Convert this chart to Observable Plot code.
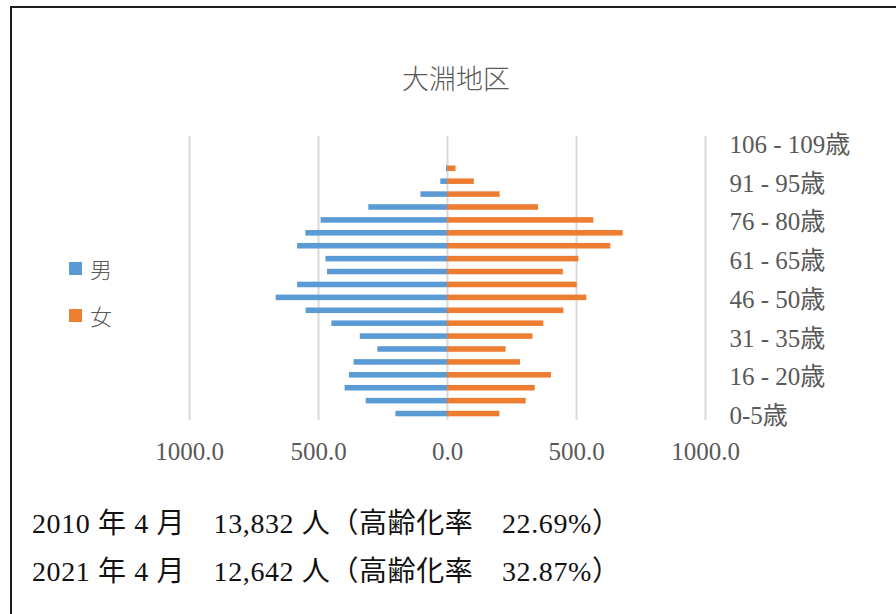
<!DOCTYPE html>
<html lang="ja">
<head>
<meta charset="utf-8">
<script src="https://cdn.jsdelivr.net/npm/d3@7"></script>
<script src="https://cdn.jsdelivr.net/npm/@observablehq/plot@0.6"></script>
<style>
  html, body { margin: 0; padding: 0; background: #fff; }
  #page { position: relative; width: 896px; height: 614px; overflow: hidden; background: #fff; }
  #box { position: absolute; left: 10px; top: 6px; width: 1000px; height: 1000px; border: 2px solid #1e1e1e; box-sizing: border-box; }
  #chart { position: absolute; left: 0; top: 0; }
  #title { position: absolute; left: 0; width: 912px; top: 58px; text-align: center;
           font-family: "Noto Sans CJK JP", sans-serif; font-weight: 300; font-size: 27px; color: #595959; }
  .legend-item { position: absolute; left: 69px; display: flex; align-items: center;
                 font-family: "Noto Sans CJK JP", sans-serif; font-weight: 300; font-size: 22px; color: #595959; }
  .legend-item .sw { width: 13px; height: 13px; margin-right: 8px; }
  .note { position: absolute; left: 32px; font-family: "Liberation Serif", "Noto Sans CJK JP", serif;
          font-size: 28px; letter-spacing: 0.6px; color: #111; white-space: pre; }
</style>
</head>
<body>
<div id="page">
  <div id="box"></div>
  <div id="chart"></div>
  <div id="title"></div>
  <div id="legend"></div>
  <div id="notes"></div>
</div>
<script>
// Age groups, youngest first
const ages = [
  "0-5歳", "6 - 10歳", "11 - 15歳", "16 - 20歳", "21 - 25歳", "26 - 30歳",
  "31 - 35歳", "36 - 40歳", "41 - 45歳", "46 - 50歳", "51 - 55歳", "56 - 60歳",
  "61 - 65歳", "66 - 70歳", "71 - 75歳", "76 - 80歳", "81 - 85歳", "86 - 90歳",
  "91 - 95歳", "96 - 100歳", "101 - 105歳", "106 - 109歳"
];
// Population per age group (persons)
const male   = [200, 315, 397, 380, 362, 270, 338, 448, 548, 664, 581, 465,
                471, 581, 549, 490, 305, 103, 26, 4, 0, 0];
const female = [203, 305, 340, 403, 283, 227, 331, 373, 451, 540, 503, 449,
                509, 633, 681, 567, 353, 204, 104, 33, 0, 0];

const seriesNames  = ["男", "女"];
const seriesColors = ["#5b9bd5", "#ed7d31"];

const xTicks = [-1000, -500, 0, 500, 1000];
const yTickLabels = ages.filter((d, i) => i % 3 === 0);

const titleText = "大淵地区";
const notes = [
  "2010 年 4 月　13,832 人（高齢化率　22.69%）",
  "2021 年 4 月　12,642 人（高齢化率　32.87%）"
];

const rows = ages.map((age, i) => ({age, male: male[i], female: female[i]}));

const chart = Plot.plot({
  width: 896,
  height: 614,
  marginLeft: 189,
  marginRight: 191,
  marginTop: 136,
  marginBottom: 194,
  style: {
    fontFamily: "'Liberation Serif', 'Noto Sans CJK JP', serif",
    fontSize: "25px",
    color: "#595959",
    background: "transparent",
    overflow: "visible"
  },
  x: {domain: [-1000, 1000]},
  y: {domain: ages, reverse: true, round: false, paddingInner: 0.57, paddingOuter: 0.285},
  marks: [
    Plot.ruleX(xTicks, {stroke: "#d9d9d9", strokeWidth: 2}),
    Plot.barX(rows, {y: "age", x1: 0, x2: d => -d.male, fill: seriesColors[0]}),
    Plot.barX(rows, {y: "age", x1: 0, x2: d => d.female, fill: seriesColors[1]}),
    Plot.axisX({
      ticks: xTicks,
      tickFormat: d => Math.abs(d).toFixed(1),
      tickSize: 0,
      tickPadding: 22,
      label: null
    }),
    Plot.axisY({
      anchor: "right",
      ticks: yTickLabels,
      tickSize: 0,
      tickPadding: 24,
      dy: 2,
      label: null
    })
  ]
});
document.getElementById("chart").appendChild(chart);

document.getElementById("title").textContent = titleText;

const legend = document.getElementById("legend");
seriesNames.forEach((name, i) => {
  const item = document.createElement("div");
  item.className = "legend-item";
  item.style.top = (252 + i * 47) + "px";
  const sw = document.createElement("span");
  sw.className = "sw";
  sw.style.background = seriesColors[i];
  const label = document.createElement("span");
  label.textContent = name;
  item.append(sw, label);
  legend.appendChild(item);
});

const notesEl = document.getElementById("notes");
notes.forEach((t, i) => {
  const n = document.createElement("div");
  n.className = "note";
  n.style.top = (501 + i * 48) + "px";
  n.textContent = t;
  notesEl.appendChild(n);
});
</script>
</body>
</html>
